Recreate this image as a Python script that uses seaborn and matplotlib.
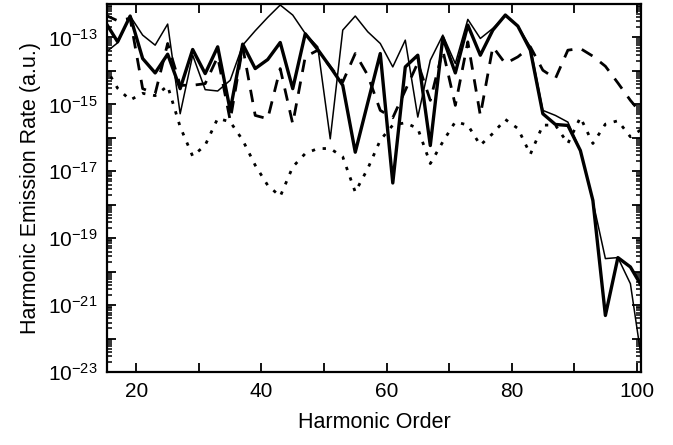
import numpy as np
import pandas as pd
import seaborn as sns
import matplotlib
matplotlib.use("Agg")
import matplotlib.pyplot as plt
from matplotlib.ticker import FixedLocator, FixedFormatter, LogLocator, NullFormatter, MultipleLocator

# odd harmonic orders 15..101
harmonics = list(range(15, 102, 2))

# emission rates, stored as log10 values
thick_log10 = [-12.53, -13.13, -12.36, -13.63, -14.06, -13.50, -14.53, -13.36, -14.08, -13.28,
               -15.18, -13.20, -13.93, -13.66, -13.15, -14.53, -12.89, -13.36, -13.88, -14.43,
               -16.43, -14.95, -13.48, -17.35, -13.88, -13.53, -16.23, -13.00, -14.06, -12.63,
               -13.53, -12.78, -12.33, -12.66, -13.38, -15.28, -15.60, -15.63, -16.38, -17.87,
               -21.31, -19.58, -19.86, -20.50]
thin_log10 = [-13.46, -13.16, -12.36, -12.93, -13.23, -12.60, -15.28, -13.53, -14.56, -14.60,
              -14.28, -13.23, -12.80, -12.40, -12.03, -12.33, -12.88, -13.28, -16.03, -12.78,
              -12.36, -12.83, -13.18, -13.88, -13.08, -15.38, -13.68, -12.93, -13.78, -12.46,
              -13.03, -12.73, -12.36, -12.66, -13.28, -15.18, -15.33, -15.53, -16.38, -17.90,
              -19.61, -19.58, -20.36, -22.90]
dashed_log10 = [-12.33, -12.50, -12.43, -14.53, -14.68, -13.18, -14.43, -14.43, -14.38, -13.58,
                -15.48, -13.28, -15.33, -15.43, -13.93, -15.58, -13.58, -13.38, -13.88, -14.33,
                -13.48, -14.13, -15.18, -15.40, -14.58, -13.76, -14.88, -13.38, -15.03, -13.13,
                -15.33, -13.28, -13.78, -13.58, -13.28, -13.98, -14.23, -13.38, -13.33, -13.56,
                -13.86, -14.36, -14.88, -15.33]
dotted_log10 = [-13.88, -14.52, -14.87, -14.67, -14.74, -14.45, -15.67, -16.55, -16.22, -15.42,
                -15.52, -16.07, -16.82, -17.42, -17.75, -16.87, -16.47, -16.32, -16.32, -16.57,
                -17.62, -16.92, -16.07, -15.62, -15.55, -15.72, -16.77, -16.12, -15.52, -15.62,
                -16.22, -15.87, -15.45, -15.72, -16.49, -15.62, -15.62, -16.17, -15.39, -16.17,
                -15.59, -15.49, -15.97, -15.72]

ytick_exps = [-13, -15, -17, -19, -21, -23]
xtick_labels = [20, 40, 60, 80, 100]

sns.set_theme(style="ticks")
plt.rcParams["font.family"] = ["Liberation Sans", "DejaVu Sans"]
plt.rcParams["mathtext.default"] = "regular"
for key in ["text.color", "axes.labelcolor", "xtick.color", "ytick.color", "axes.edgecolor"]:
    plt.rcParams[key] = "black"

fig = plt.figure(figsize=(6.73, 4.45), dpi=100)
ax = fig.add_axes([0.159, 0.164, 0.7935, 0.827])

styles = [
    (thin_log10, dict(lw=1.1, linestyle="-")),
    (thick_log10, dict(lw=2.4, linestyle="-")),
    (dashed_log10, dict(lw=2.0, linestyle=(0, (4.5, 3.5)))),
    (dotted_log10, dict(lw=2.0, linestyle=(0, (1.2, 2.8)))),
]
for vals, kw in styles:
    df = pd.DataFrame({"order": harmonics, "rate": 10.0 ** np.array(vals)})
    sns.lineplot(data=df, x="order", y="rate", ax=ax, color="black", **kw)

ax.set_yscale("log")
ax.set_xlim(15.3, 100.7)
ax.set_ylim(1e-23, 1e-12)

ax.yaxis.set_major_locator(FixedLocator([10.0 ** e for e in range(-23, -11)]))
ax.yaxis.set_major_formatter(FixedFormatter(
    ["$10^{%d}$" % e if e in ytick_exps else "" for e in range(-23, -11)]))
ax.yaxis.set_minor_locator(LogLocator(base=10, subs=np.arange(2, 10), numticks=30))
ax.yaxis.set_minor_formatter(NullFormatter())

ax.xaxis.set_major_locator(MultipleLocator(10))
ax.xaxis.set_major_formatter(plt.FuncFormatter(
    lambda v, p: "%d" % v if int(round(v)) in xtick_labels else ""))

ax.tick_params(which="both", direction="in", top=True, right=True, colors="black",
               width=1.3, labelsize=15)
ax.tick_params(which="major", length=6.5, pad=7)
ax.tick_params(which="minor", length=3.5, width=1.1)
for sp in ax.spines.values():
    sp.set_linewidth(1.6)
    sp.set_color("black")

ax.set_xlabel("Harmonic Order", fontsize=15.5, labelpad=8)
ax.set_ylabel("Harmonic Emission Rate (a.u.)", fontsize=15.5, labelpad=5)

fig.savefig("out.png", dpi=100)
